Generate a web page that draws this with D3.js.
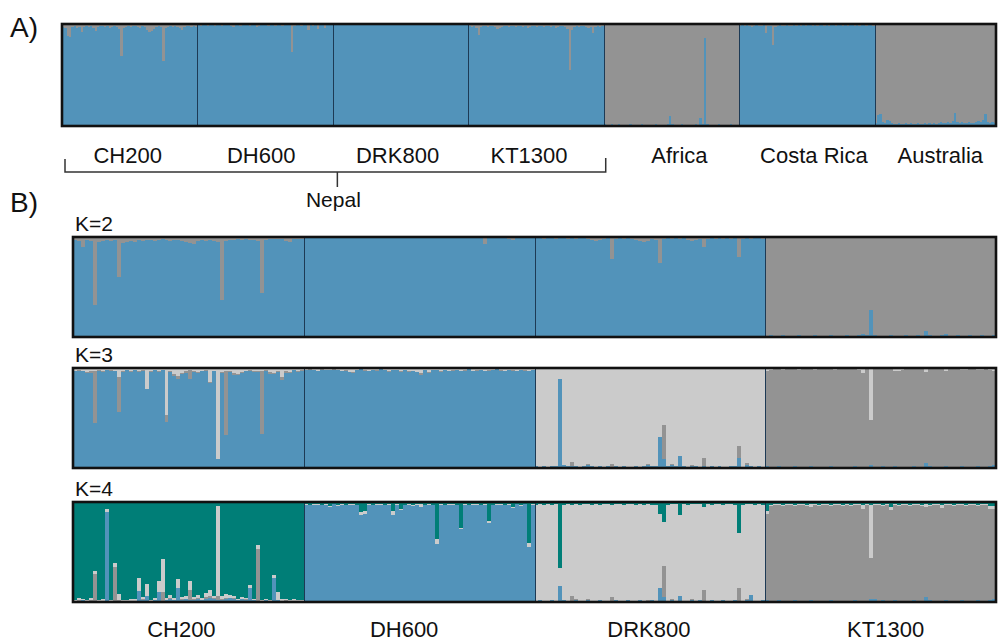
<!DOCTYPE html>
<html><head><meta charset="utf-8">
<script src="https://cdn.jsdelivr.net/npm/d3@7"></script>
<style>
html,body{margin:0;padding:0;background:#fff;}
svg{display:block;}
text{font-family:"Liberation Sans",Arial,Helvetica,sans-serif;fill:#111;}
</style></head>
<body>
<svg id="chart" width="1000" height="641"></svg>
<script>
// ---------------- DATA ----------------
const clusterKeys = ["blue", "grey", "lgrey", "teal"];
const clusterColors = {blue: "#5293ba", grey: "#939393", lgrey: "#cbcbcb", teal: "#007e77"};

const popsA = ["CH200", "DH600", "DRK800", "KT1300", "Africa", "Costa Rica", "Australia"];
const popsB = ["CH200", "DH600", "DRK800", "KT1300"];
const kLabels = ["K=2", "K=3", "K=4"];
const regionLabel = "Nepal";

// Panel A (K=2): minority cluster proportion (%) for each individual
const aCH200Grey = [
  3,4,12,13,3,2,4,3,8,3,
  2,3,2,4,7,3,2,2,3,2,
  4,3,2,3,5,31,4,3,2,3,
  2,2,3,4,2,3,6,8,7,5,
  3,2,3,36,4,3,2,3,2,3,
  4,6,3,2,2,3,2,3];
const aDH600Grey = [
  1,2,1,1,2,1,1,2,1,1,
  2,1,1,1,2,3,1,1,2,1,
  1,1,2,1,1,3,2,1,1,1,
  2,1,1,2,1,1,2,1,1,1,
  27,2,1,1,2,1,1,6,1,2,
  1,5,1,1,4,1,1,1];
const aDRK800Grey = [
  0,1,0,0,1,0,0,0,1,0,
  0,0,1,0,0,0,0,1,0,0,
  0,1,0,0,0,0,1,0,0,0,
  0,0,0,1,0,0,0,0,1,0,
  0,0,1,0,0,0,0,0,1,0,
  0,0,0,1,0,0,0,0];
const aKT1300Grey = [
  2,3,2,4,11,3,2,2,3,2,
  2,3,5,4,3,2,2,3,2,2,
  3,2,2,3,2,4,3,2,2,3,
  2,2,3,2,2,3,2,4,3,2,
  2,3,5,45,6,3,2,3,2,2,
  3,4,3,9,3,2,3,2];
const aAfricaBlue = [
  2,1,1,2,1,1,2,1,1,1,
  1,2,1,1,1,1,2,1,1,1,
  1,1,2,1,1,1,1,2,10,2,
  1,1,1,2,1,1,1,1,1,2,
  1,8,2,86,2,1,1,1,1,2,
  1,1,1,1,2,1,1,1];
const aCostaRicaGrey = [
  2,1,2,1,2,3,2,1,2,2,
  1,9,2,2,21,3,2,1,2,2,
  1,2,2,1,2,1,2,1,2,1,
  1,2,1,2,1,1,2,1,2,1,
  1,2,1,1,2,1,2,1,1,2,
  1,2,1,1,2,1,1,2];
const aAustraliaBlue = [
  3,11,12,4,3,6,5,3,2,2,
  3,2,2,3,2,3,2,2,3,2,
  2,3,2,3,2,3,2,3,4,3,
  3,4,3,5,13,4,3,4,3,3,
  4,3,3,4,5,4,6,12,4,3,
  4,3];

// Panel B, K=2
const k2CH200Grey = [
  3,4,10,3,4,68,5,4,3,4,
  3,40,6,5,4,5,3,4,3,3,
  4,3,2,3,4,3,3,4,5,6,
  7,4,3,4,3,4,5,63,4,3,
  3,2,3,2,3,3,4,56,3,2,
  2,2,2,4,5,2,2,2];
const k2DH600Grey = [
  1,0,1,0,0,1,0,0,0,1,
  0,0,1,0,0,0,1,0,0,0,
  1,0,0,0,0,1,0,0,0,0,
  1,0,0,0,1,0,0,0,0,0,
  0,1,0,0,0,7,1,0,0,1,
  0,2,3,0,1,0,0,1];
const k2DRK800Grey = [
  1,1,2,1,1,2,1,1,2,1,
  2,1,1,2,3,4,3,2,1,22,
  2,1,2,1,2,3,4,5,4,2,
  3,26,2,1,2,1,2,1,3,4,
  3,2,10,2,1,2,1,2,1,2,
  1,20,2,1,2,1,1,2];
const k2KT1300Blue = [
  1,2,1,1,2,1,1,1,2,1,
  1,1,2,1,1,1,2,1,1,1,
  2,1,1,2,3,2,27,2,1,1,
  1,2,1,1,1,2,1,1,2,1,
  6,2,1,1,2,3,1,1,2,1,
  1,2,1,1,2,1,1,2];

// Panel B, K=3
const k3CH200Grey = [
  0,1,0,1,2,52,1,1,0,1,
  0,35,1,0,1,0,1,1,0,1,
  0,1,0,7,1,2,3,1,2,9,
  1,1,0,1,1,0,0,1,64,1,
  2,1,1,0,1,1,1,63,1,2,
  1,1,3,2,1,0,1,1];
const k3CH200Lgrey = [
  3,2,3,4,3,3,2,3,2,2,
  3,9,3,2,3,2,3,2,21,3,
  2,3,2,47,3,6,8,5,3,2,
  3,4,3,2,14,3,91,4,3,3,
  5,6,4,3,2,3,3,3,2,4,
  5,3,9,3,4,2,3,2];
const k3DH600Grey = [
  0,1,0,0,1,0,0,1,0,0,
  1,0,1,0,0,1,0,0,1,0,
  0,1,0,0,1,0,1,0,0,2,
  0,1,0,0,1,0,0,1,0,0,
  1,0,0,1,0,0,1,0,0,1,
  0,0,1,0,0,1,0,0];
const k3DH600Lgrey = [
  2,1,2,3,1,2,2,1,2,3,
  2,4,4,2,1,2,3,2,2,1,
  2,3,2,2,3,2,3,3,4,5,
  2,4,2,2,3,2,3,2,2,3,
  2,1,3,2,2,3,2,2,1,2,
  3,2,2,3,2,2,3,2];
const k3DRK800Blue = [
  2,1,2,1,2,2,89,3,2,2,
  2,1,2,3,2,1,2,1,2,1,
  2,1,2,1,1,2,1,2,3,2,
  2,31,9,2,3,2,12,2,1,2,
  2,1,2,1,2,1,2,1,1,2,
  2,10,1,3,2,1,2,1];
const k3DRK800Grey = [
  0,0,0,0,0,0,0,0,0,4,
  0,0,0,1,0,0,0,0,0,3,
  0,0,0,0,0,0,0,0,1,0,
  0,0,34,0,1,0,0,0,0,1,
  0,0,8,0,0,0,0,0,0,0,
  0,12,0,2,0,0,0,0];
const k3KT1300Blue = [
  2,1,1,2,1,1,1,2,1,1,
  1,2,1,1,1,1,2,1,1,1,
  1,1,2,1,1,1,3,1,1,2,
  1,1,2,1,1,1,1,2,1,1,
  5,2,1,1,1,2,1,1,1,2,
  1,1,1,2,1,1,2,3];
const k3KT1300Lgrey = [
  3,2,1,1,2,1,1,1,2,1,
  1,1,2,1,1,1,1,2,1,1,
  1,1,1,2,5,1,52,1,1,1,
  1,1,3,3,2,1,1,1,1,1,
  4,1,1,1,1,3,1,1,1,2,
  2,1,1,2,2,1,2,3];

// Panel B, K=4
const k4CH200Blue = [
  1,1,2,1,1,1,1,1,90,1,
  1,1,1,1,1,1,11,2,6,1,
  2,10,1,2,3,2,14,2,3,2,
  2,3,2,3,4,3,2,2,3,4,
  3,2,3,2,14,2,1,1,2,1,
  24,2,1,1,1,1,1,1];
const k4CH200Grey = [
  0,1,0,0,1,27,0,0,0,0,
  34,1,0,0,0,0,0,1,0,0,
  0,0,9,0,1,0,0,1,0,10,
  1,1,0,2,2,1,4,1,1,0,
  1,0,0,1,0,0,52,0,0,0,
  0,0,0,1,0,0,0,0];
const k4CH200Lgrey = [
  1,2,1,1,2,3,1,2,3,1,
  4,6,1,1,2,2,13,2,12,1,
  2,11,33,2,3,2,9,2,3,9,
  2,3,2,4,6,2,90,3,4,3,
  2,1,2,1,3,1,4,1,1,1,
  3,8,2,1,1,2,1,1];
const k4DH600Grey = [
  0,0,0,0,0,0,0,0,0,0,
  0,0,0,0,0,0,0,0,0,0,
  0,0,0,0,0,0,0,0,0,0,
  0,0,0,0,0,0,0,0,0,0,
  0,0,0,0,0,0,0,0,0,0,
  0,0,0,0,0,0,0,0];
const k4DH600Lgrey = [
  1,0,1,1,0,1,1,0,1,1,
  0,1,1,0,3,3,1,0,1,1,
  0,1,4,1,1,0,1,1,1,3,
  0,1,0,5,1,0,1,1,0,1,
  1,0,1,1,0,1,2,0,1,1,
  0,1,1,0,1,0,4,1];
const k4DH600Teal = [
  2,3,2,2,3,2,4,2,3,2,
  3,2,2,3,10,9,2,3,2,2,
  3,2,9,2,7,3,2,3,2,2,
  3,2,3,37,2,3,2,2,3,26,
  2,3,2,2,3,2,19,3,2,2,
  3,2,5,2,3,2,41,2];
const k4DRK800Blue = [
  1,2,1,1,2,1,16,2,1,1,
  2,1,1,2,1,1,2,1,1,1,
  2,1,1,2,1,1,2,1,1,2,
  1,14,5,1,2,1,6,1,1,2,
  1,2,1,1,2,1,1,2,1,1,
  2,1,1,2,7,1,1,2];
const k4DRK800Grey = [
  0,0,0,0,0,0,0,0,0,5,
  1,0,0,1,0,0,0,0,0,4,
  0,0,0,0,0,0,0,0,1,0,
  0,0,31,0,1,0,0,0,0,1,
  0,0,11,0,0,0,0,0,0,0,
  0,13,0,1,0,0,0,0];
const k4DRK800Teal = [
  3,2,3,2,3,2,66,3,2,3,
  2,3,2,2,3,2,3,2,2,3,
  2,2,3,2,2,3,2,3,2,3,
  3,12,20,3,2,2,13,2,3,2,
  2,2,5,2,3,2,2,3,2,2,
  3,31,3,2,2,3,2,3];
const k4KT1300Blue = [
  2,1,1,2,1,1,1,2,1,1,
  1,2,1,1,1,1,2,1,1,1,
  1,1,2,1,1,1,3,3,1,2,
  1,1,2,1,1,1,1,2,1,1,
  5,2,1,1,1,2,1,1,1,2,
  1,1,1,2,1,1,2,3];
const k4KT1300Lgrey = [
  3,1,1,1,1,1,1,1,1,1,
  1,3,1,1,1,1,1,1,1,1,
  1,1,1,1,4,1,53,1,1,1,
  1,3,1,1,1,1,1,1,1,1,
  3,1,1,1,3,1,1,1,1,1,
  1,1,1,1,1,1,3,3];
const k4KT1300Teal = [
  9,3,2,2,3,2,2,3,2,2,
  3,2,2,3,2,2,3,2,2,3,
  2,3,2,2,3,2,3,2,2,3,
  2,5,2,3,2,2,3,2,2,3,
  2,3,2,2,3,2,2,3,2,2,
  3,2,2,3,2,2,4,4];

// ---------------- BUILD TABLES ----------------
// each population: dominant cluster + minority arrays; dominant = 100 - sum(minorities)
function buildPop(pop, dominant, minors) {
  const n = Object.values(minors)[0].length;
  const rows = [];
  for (let i = 0; i < n; i++) {
    const r = {pop: pop, blue: 0, grey: 0, lgrey: 0, teal: 0};
    let s = 0;
    for (const k in minors) { r[k] = minors[k][i]; s += minors[k][i]; }
    r[dominant] = Math.max(0, 100 - s);
    rows.push(r);
  }
  return rows;
}

const panelA = [
  buildPop(popsA[0], "blue", {grey: aCH200Grey}),
  buildPop(popsA[1], "blue", {grey: aDH600Grey}),
  buildPop(popsA[2], "blue", {grey: aDRK800Grey}),
  buildPop(popsA[3], "blue", {grey: aKT1300Grey}),
  buildPop(popsA[4], "grey", {blue: aAfricaBlue}),
  buildPop(popsA[5], "blue", {grey: aCostaRicaGrey}),
  buildPop(popsA[6], "grey", {blue: aAustraliaBlue})
];
const panelK2 = [
  buildPop(popsB[0], "blue", {grey: k2CH200Grey}),
  buildPop(popsB[1], "blue", {grey: k2DH600Grey}),
  buildPop(popsB[2], "blue", {grey: k2DRK800Grey}),
  buildPop(popsB[3], "grey", {blue: k2KT1300Blue})
];
const panelK3 = [
  buildPop(popsB[0], "blue", {grey: k3CH200Grey, lgrey: k3CH200Lgrey}),
  buildPop(popsB[1], "blue", {grey: k3DH600Grey, lgrey: k3DH600Lgrey}),
  buildPop(popsB[2], "lgrey", {blue: k3DRK800Blue, grey: k3DRK800Grey}),
  buildPop(popsB[3], "grey", {blue: k3KT1300Blue, lgrey: k3KT1300Lgrey})
];
const panelK4 = [
  buildPop(popsB[0], "teal", {blue: k4CH200Blue, grey: k4CH200Grey, lgrey: k4CH200Lgrey}),
  buildPop(popsB[1], "blue", {grey: k4DH600Grey, lgrey: k4DH600Lgrey, teal: k4DH600Teal}),
  buildPop(popsB[2], "lgrey", {blue: k4DRK800Blue, grey: k4DRK800Grey, teal: k4DRK800Teal}),
  buildPop(popsB[3], "grey", {blue: k4KT1300Blue, lgrey: k4KT1300Lgrey, teal: k4KT1300Teal})
];

// ---------------- DRAW ----------------
const svg = d3.select("#chart");

function drawPanel(groups, box) {
  const rows = groups.flat();
  const n = rows.length;
  const x = d3.scaleBand().domain(d3.range(n)).range([box.x0, box.x1]).paddingInner(0).paddingOuter(0);
  const y = d3.scaleLinear().domain([0, 100]).range([box.y1, box.y0]);
  const series = d3.stack().keys(clusterKeys)(rows);
  const edge = i => Math.round(i < n ? x(i) : box.x1);
  const g = svg.append("g").attr("shape-rendering", "crispEdges");
  g.selectAll("g.layer").data(series).join("g")
    .attr("fill", d => clusterColors[d.key])
    .selectAll("rect").data(d => d).join("rect")
      .attr("x", (d, i) => edge(i))
      .attr("width", (d, i) => edge(i + 1) - edge(i))
      .attr("y", d => Math.round(y(d[1])))
      .attr("height", d => Math.max(0, Math.round(y(d[0])) - Math.round(y(d[1]))));
  // group dividers
  const starts = [];
  let acc = 0;
  groups.forEach(gr => { starts.push(acc); acc += gr.length; });
  g.selectAll("line.div").data(starts.slice(1)).join("line")
    .attr("x1", d => edge(d) + 0.5).attr("x2", d => edge(d) + 0.5)
    .attr("y1", box.y0).attr("y2", box.y1)
    .attr("stroke", "#1d3a55").attr("stroke-width", 1);
  svg.append("rect")
    .attr("x", box.x0).attr("y", box.y0)
    .attr("width", box.x1 - box.x0).attr("height", box.y1 - box.y0)
    .attr("fill", "none").attr("stroke", "#111").attr("stroke-width", 2.6);
  return {x, starts, centers: groups.map((gr, i) => x(starts[i]) + gr.length * x.bandwidth() / 2),
          ends: groups.map((gr, i) => x(starts[i]) + gr.length * x.bandwidth())};
}

// Panel A
const boxA = {x0: 62, x1: 996, y0: 24, y1: 126};
const pa = drawPanel(panelA, boxA);
const labelShiftA = [-2, -4, -3, -7, 8, 7, 5];
svg.selectAll("text.labA").data(popsA).join("text")
  .attr("x", (d, i) => pa.centers[i] + labelShiftA[i]).attr("y", 163)
  .attr("text-anchor", "middle").attr("font-size", 22).text(d => d);

// Nepal bracket
const brL = boxA.x0 + 3, brR = pa.ends[3] + 2, brM = (brL + brR) / 2 + 2;
svg.append("path")
  .attr("d", `M${brL},159 V172 H${brR} V158`)
  .attr("fill", "none").attr("stroke", "#333").attr("stroke-width", 1.5);
svg.append("line").attr("x1", brM).attr("x2", brM).attr("y1", 172).attr("y2", 187)
  .attr("stroke", "#333").attr("stroke-width", 1.5);
svg.append("text").attr("x", brM - 4).attr("y", 207).attr("text-anchor", "middle")
  .attr("font-size", 21).text(regionLabel);

// Panel letters
svg.append("text").attr("x", 10).attr("y", 37).attr("font-size", 28).text("A)");
svg.append("text").attr("x", 10).attr("y", 212).attr("font-size", 28).text("B)");

// Panel B
const boxesB = [
  {x0: 73, x1: 996, y0: 237, y1: 337},
  {x0: 73, x1: 996, y0: 368, y1: 468},
  {x0: 73, x1: 996, y0: 502, y1: 602}
];
const panelsB = [panelK2, panelK3, panelK4];
let pb;
panelsB.forEach((p, i) => {
  pb = drawPanel(p, boxesB[i]);
  svg.append("text").attr("x", 75).attr("y", boxesB[i].y0 - 6)
    .attr("font-size", 21).text(kLabels[i]);
});
const labelShiftB = [-7, -15, -1, 5];
svg.selectAll("text.labB").data(popsB).join("text")
  .attr("x", (d, i) => pb.centers[i] + labelShiftB[i]).attr("y", 637)
  .attr("text-anchor", "middle").attr("font-size", 22).text(d => d);
</script>
</body></html>
